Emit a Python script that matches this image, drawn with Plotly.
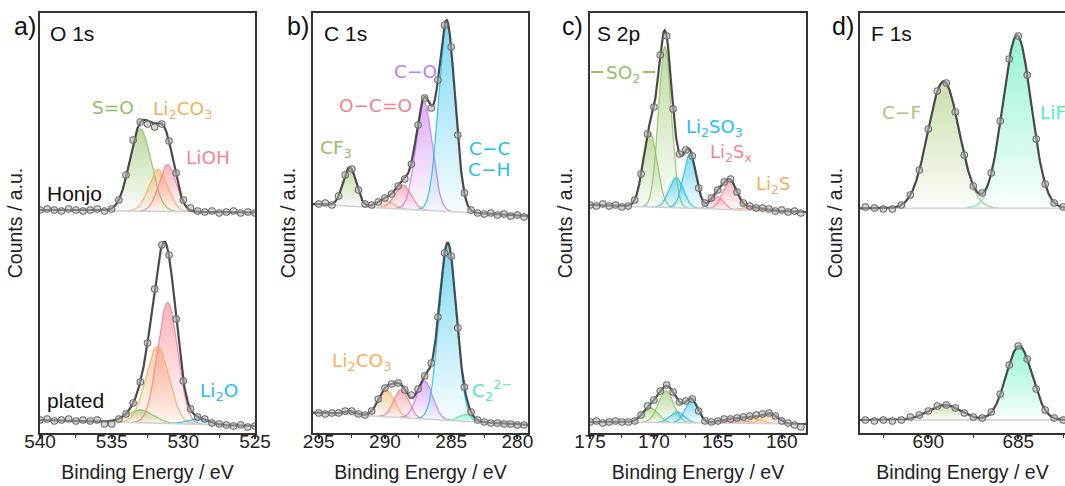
import numpy as np
import plotly.graph_objects as go

W, H = 1065, 486

# ---------------- data (counts in a.u.; Honjo spectra are offset upward) ----------------
# Panel a: O 1s
O1S_RANGE = [540.0, 525.0]
O1S_BE = np.arange(540.0, 524.9, -0.5)
O1S_HONJO_COUNTS = [223, 224, 223, 222, 224, 223, 222, 223, 224, 222, 224,
                    233, 258, 293, 311, 309, 306, 309, 292, 260, 233, 225,
                    222, 221, 222, 220, 221, 222, 220, 221, 220]
O1S_PLATED_COUNTS = [13, 14, 12, 13, 14, 12, 13, 12, 13, 9, 9,
                     14, 19, 30, 51, 90, 144, 188, 178, 114, 52, 24,
                     16, 14, 10, 9, 8, 7, 8, 6, 7]
O1S_HONJO_KEYS = ["SO", "Li2CO3", "LiOH"]
O1S_HONJO_CENTER = [533.0, 531.75, 531.10]
O1S_HONJO_HEIGHT = [82, 42, 47]
O1S_HONJO_SIGMA = [0.75, 0.65, 0.60]
O1S_HONJO_BG = [223.0, 220.5]
O1S_PLATED_KEYS = ["SO", "Li2CO3", "LiOH", "Li2O"]
O1S_PLATED_CENTER = [533.0, 531.8, 531.1, 529.0]
O1S_PLATED_HEIGHT = [13, 77, 121, 6]
O1S_PLATED_SIGMA = [0.9, 0.8, 0.7, 0.7]
O1S_PLATED_BG = [13.0, 7.0]

# Panel b: C 1s
C1S_RANGE = [295.43, 279.2]
C1S_BE = np.arange(295.0, 279.4, -0.5)
C1S_HONJO_COUNTS = [229, 230, 228, 237, 258, 264, 243, 229, 228, 231,
                    235, 239, 247, 254, 269, 308, 335, 325, 353, 408,
                    386, 298, 240, 223, 220, 219, 220, 218, 219, 217, 218, 216]
C1S_PLATED_COUNTS = [20, 19, 20, 20, 22, 22, 19, 18, 22, 34,
                     45, 49, 50, 43, 38, 44, 57, 70, 116, 180,
                     177, 105, 46, 21, 13, 11, 10, 10, 9, 9, 8, 8]
C1S_HONJO_KEYS = ["CF3", "Li2CO3", "OCO", "CO", "CC"]
C1S_HONJO_CENTER = [292.66, 290.0, 288.65, 287.05, 285.33]
C1S_HONJO_HEIGHT = [39, 8, 24, 108, 189]
C1S_HONJO_SIGMA = [0.5, 0.6, 0.6, 0.62, 0.62]
C1S_HONJO_BG = [228.9, 217.1]
C1S_PLATED_KEYS = ["CF3", "Li2CO3", "OCO", "CO", "CC", "C2"]
C1S_PLATED_CENTER = [292.74, 289.9, 288.77, 287.0, 285.26, 283.9]
C1S_PLATED_HEIGHT = [4, 27, 28, 38, 177, 7]
C1S_PLATED_SIGMA = [0.5, 0.6, 0.55, 0.6, 0.65, 0.5]
C1S_PLATED_BG = [20.3, 8.2]

# Panel c: S 2p
S2P_RANGE = [175.0, 158.1]
S2P_BE = np.arange(175.0, 158.4, -0.5)
S2P_HONJO_COUNTS = [228, 227, 229, 227, 228, 226, 227,
                    233, 259, 299, 326, 378, 397, 324, 279, 283, 277,
                    245, 230, 235, 243, 251, 254, 241, 230, 227, 225,
                    225, 224, 222, 223, 221, 222, 220]
S2P_PLATED_COUNTS = [11, 12, 10, 11, 12, 11, 11,
                     12, 18, 27, 33, 42, 48, 41, 31, 32, 34,
                     22, 12, 11, 12, 14, 14, 15, 16, 17, 18,
                     19, 20, 17, 12, 10, 8, 6]
S2P_KEYS = ["SO2", "SO2", "Li2SO3", "Li2SO3", "Li2Sx", "Li2Sx", "Li2S", "Li2S"]
S2P_HONJO_CENTER = [169.14, 170.3, 168.25, 167.2, 165.1, 164.06, 162.6, 161.5]
S2P_HONJO_HEIGHT = [161, 74, 30, 54, 13, 29, 3, 2]
S2P_HONJO_SIGMA = [0.5, 0.55, 0.55, 0.5, 0.5, 0.55, 0.5, 0.5]
S2P_HONJO_BG = [228.0, 221.0]
S2P_PLATED_CENTER = [169.06, 170.3, 168.2, 167.06, 164.5, 163.4, 162.2, 160.95]
S2P_PLATED_HEIGHT = [32, 15, 11, 23, 3, 4, 5, 10]
S2P_PLATED_SIGMA = [0.6, 0.6, 0.55, 0.5, 0.6, 0.6, 0.6, 0.6]
S2P_PLATED_BG = [11.0, 9.0]

# Panel d: F 1s
F1S_RANGE = [693.8, 682.4]
F1S_BE = np.arange(693.5, 682.4, -0.5)
F1S_HONJO_COUNTS = [226, 225, 224, 224, 228, 238, 263, 304, 342, 350, 321, 278,
                    247, 240, 260, 312, 374, 397, 358, 294, 249, 230, 226]
F1S_PLATED_COUNTS = [13, 12, 13, 12, 13, 16, 18, 22, 27, 28, 25, 20,
                     16, 15, 21, 39, 68, 87, 74, 44, 23, 15, 13]
F1S_KEYS = ["CF", "LiF"]
F1S_HONJO_CENTER = [689.15, 685.07]
F1S_HONJO_HEIGHT = [127, 173]
F1S_HONJO_SIGMA = [0.87, 0.79]
F1S_HONJO_BG = [224.7, 224.7]
F1S_PLATED_CENTER = [689.1, 684.95]
F1S_PLATED_HEIGHT = [15, 74]
F1S_PLATED_SIGMA = [0.9, 0.72]
F1S_PLATED_BG = [13.0, 13.0]

# ---------------- style ----------------
COLORS = {
    "SO": "#8fc163", "Li2CO3": "#f5ae62", "LiOH": "#f7838f", "Li2O": "#1fc0f2",
    "CF3": "#8fc163", "OCO": "#f3828a", "CO": "#c57af2", "CC": "#22c0ee", "C2": "#58e8bc",
    "SO2": "#93c265", "Li2SO3": "#22c0f0", "Li2Sx": "#f5858f", "Li2S": "#f3ae66",
    "CF": "#a6c974", "LiF": "#4deeb8",
}
LABEL_FONT = "DejaVu Sans"
AXIS_FONT = "Liberation Sans"

PLOT_TOP, PLOT_BOTTOM = 13, 433   # pixel rows of the plot area


def rgba(hexc, a):
    hexc = hexc.lstrip("#")
    r, g, b = int(hexc[0:2], 16), int(hexc[2:4], 16), int(hexc[4:6], 16)
    return f"rgba({r},{g},{b},{a})"


def gauss(x, c, h, s):
    return h * np.exp(-((x - c) ** 2) / (2.0 * s * s))


PANELS = [
    dict(rng=O1S_RANGE, dom=(40, 255), be=O1S_BE, spectra=[
        (O1S_HONJO_COUNTS, O1S_HONJO_KEYS, O1S_HONJO_CENTER, O1S_HONJO_HEIGHT, O1S_HONJO_SIGMA, O1S_HONJO_BG),
        (O1S_PLATED_COUNTS, O1S_PLATED_KEYS, O1S_PLATED_CENTER, O1S_PLATED_HEIGHT, O1S_PLATED_SIGMA, O1S_PLATED_BG)]),
    dict(rng=C1S_RANGE, dom=(313, 528), be=C1S_BE, spectra=[
        (C1S_HONJO_COUNTS, C1S_HONJO_KEYS, C1S_HONJO_CENTER, C1S_HONJO_HEIGHT, C1S_HONJO_SIGMA, C1S_HONJO_BG),
        (C1S_PLATED_COUNTS, C1S_PLATED_KEYS, C1S_PLATED_CENTER, C1S_PLATED_HEIGHT, C1S_PLATED_SIGMA, C1S_PLATED_BG)]),
    dict(rng=S2P_RANGE, dom=(590, 806), be=S2P_BE, spectra=[
        (S2P_HONJO_COUNTS, S2P_KEYS, S2P_HONJO_CENTER, S2P_HONJO_HEIGHT, S2P_HONJO_SIGMA, S2P_HONJO_BG),
        (S2P_PLATED_COUNTS, S2P_KEYS, S2P_PLATED_CENTER, S2P_PLATED_HEIGHT, S2P_PLATED_SIGMA, S2P_PLATED_BG)]),
    dict(rng=F1S_RANGE, dom=(860, 1065), be=F1S_BE, spectra=[
        (F1S_HONJO_COUNTS, F1S_KEYS, F1S_HONJO_CENTER, F1S_HONJO_HEIGHT, F1S_HONJO_SIGMA, F1S_HONJO_BG),
        (F1S_PLATED_COUNTS, F1S_KEYS, F1S_PLATED_CENTER, F1S_PLATED_HEIGHT, F1S_PLATED_SIGMA, F1S_PLATED_BG)]),
]


def px(x):
    return x / W


def py(y):
    # paper y (plot area runs from PLOT_TOP to PLOT_BOTTOM pixels)
    return (PLOT_BOTTOM - y) / (PLOT_BOTTOM - PLOT_TOP)


fig = go.Figure()

for i, p in enumerate(PANELS):
    n = "" if i == 0 else str(i + 1)
    xa, ya = "x" + n, "y" + n
    hi, lo = p["rng"]
    fine = np.linspace(hi, lo, 900)
    for counts, keys, centers, heights, sigmas, bgv in p["spectra"]:
        bg = bgv[0] + (bgv[1] - bgv[0]) * (hi - fine) / (hi - lo)
        env = bg.copy()
        comps = []
        for k, c, h, s in zip(keys, centers, heights, sigmas):
            g = gauss(fine, c, h, s)
            env = env + g
            comps.append((k, g))
        total = env - bg
        for k, g in comps:
            m = g > 0.25
            xs = fine[m]
            top = (bg + g)[m]
            base = bg[m]
            col = COLORS[k]
            fig.add_trace(go.Scatter(
                x=np.concatenate([xs, xs[::-1]]), y=np.concatenate([top, base[::-1]]),
                xaxis=xa, yaxis=ya, mode="lines", fill="toself", line=dict(width=0),
                fillgradient=dict(type="vertical",
                                  colorscale=[[0, rgba(col, 0.03)], [1, rgba(col, 0.6)]]),
                hoverinfo="skip", showlegend=False))
        for k, g in comps:
            m = g > 0.25
            fig.add_trace(go.Scatter(
                x=fine[m], y=(bg + g)[m], xaxis=xa, yaxis=ya, mode="lines",
                line=dict(color=rgba(COLORS[k], 0.9), width=1.2),
                hoverinfo="skip", showlegend=False))
        mb = total > 0.3
        fig.add_trace(go.Scatter(
            x=fine[mb], y=bg[mb], xaxis=xa, yaxis=ya, mode="lines",
            line=dict(color="#cfcfd4", width=1.5), hoverinfo="skip", showlegend=False))
        fig.add_trace(go.Scatter(
            x=fine, y=env, xaxis=xa, yaxis=ya, mode="lines",
            line=dict(color="#4a4a4a", width=2.2), hoverinfo="skip", showlegend=False))
        fig.add_trace(go.Scatter(
            x=p["be"], y=counts, xaxis=xa, yaxis=ya, mode="markers",
            marker=dict(symbol="circle", size=6.5, color="rgba(180,180,180,0.55)",
                        line=dict(color="#6c6c6c", width=1.1)),
            showlegend=False))
    fig.layout["xaxis" + n] = dict(
        domain=[px(p["dom"][0]), px(p["dom"][1])], range=p["rng"], anchor=ya,
        tickmode="linear", tick0=0, dtick=5, ticks="outside", ticklen=4, tickwidth=1.5,
        tickcolor="#333", showline=True, linecolor="#333", linewidth=1.8, mirror=True,
        showgrid=False, zeroline=False, automargin=False, ticklabelstandoff=-14,
        tickfont=dict(family=AXIS_FONT, size=19, color="#222"),
        minor=dict(dtick=2.5, tick0=0, ticks="outside", ticklen=3, tickcolor="#333", tickwidth=1.2),
        title=dict(text="Binding Energy / eV", font=dict(family=AXIS_FONT, size=19.5, color="#222"),
                   standoff=15),
    )
    fig.layout["yaxis" + n] = dict(
        domain=[0, 1], range=[0, 420], anchor=xa, showticklabels=False, ticks="",
        showline=True, linecolor="#333", linewidth=1.8, mirror=(i < 3),
        showgrid=False, zeroline=False, automargin=False,
        title=dict(text="Counts / a.u.", font=dict(family=AXIS_FONT, size=19.5, color="#222"),
                   standoff=10),
    )

ann = []


def label(x, y, text, color="#111", size=18.5, family=LABEL_FONT, xanchor="center"):
    ann.append(dict(x=px(x), y=py(y), xref="paper", yref="paper", text=text, showarrow=False,
                    xanchor=xanchor, yanchor="middle",
                    font=dict(family=family, size=size, color=color)))


for t, x in zip(["a)", "b)", "c)", "d)"], [25, 298, 572, 843]):
    label(x, 26, t, size=25, family=AXIS_FONT)
for t, x in zip(["O 1s", "C 1s", "S 2p", "F 1s"], [48, 322, 595, 869]):
    label(x, 33, t, size=21, family=AXIS_FONT, xanchor="left")
label(45, 193, "Honjo", size=21, family=AXIS_FONT, xanchor="left")
label(45, 400, "plated", size=21, family=AXIS_FONT, xanchor="left")

label(113, 108, "S=O", COLORS["SO"])
label(182, 110, "Li<sub>2</sub>CO<sub>3</sub>", COLORS["Li2CO3"])
label(208, 157, "LiOH", COLORS["LiOH"])
label(219, 392, "Li<sub>2</sub>O", COLORS["Li2O"])

label(415, 72, "C\u2212O", COLORS["CO"])
label(375, 105, "O\u2212C=O", COLORS["OCO"])
label(336, 149, "CF<sub>3</sub>", COLORS["CF3"])
label(489, 148, "C\u2212C", COLORS["CC"])
label(489, 169, "C\u2212H", COLORS["CC"])
label(361, 362, "Li<sub>2</sub>CO<sub>3</sub>", COLORS["Li2CO3"])
label(492, 390, "C<sub>2</sub><sup>2\u2212</sup>", COLORS["C2"])

label(623, 74, "SO<sub>2</sub>", COLORS["SO2"])
label(714, 128, "Li<sub>2</sub>SO<sub>3</sub>", COLORS["Li2SO3"], size=18)
label(731, 153, "Li<sub>2</sub>S<sub>x</sub>", COLORS["Li2Sx"], size=18)
label(773, 185, "Li<sub>2</sub>S", COLORS["Li2S"], size=18)

label(901, 112, "C\u2212F", COLORS["CF"])
label(1038, 112, "LiF", COLORS["LiF"], xanchor="left")

shapes = [
    dict(type="line", xref="paper", yref="paper", x0=px(591), x1=px(603), y0=py(72), y1=py(72),
         line=dict(color=COLORS["SO2"], width=2)),
    dict(type="line", xref="paper", yref="paper", x0=px(643), x1=px(655), y0=py(72), y1=py(72),
         line=dict(color=COLORS["SO2"], width=2)),
]

fig.update_layout(
    template="none",
    width=W, height=H, margin=dict(l=0, r=0, t=PLOT_TOP, b=H - PLOT_BOTTOM, pad=0),
    paper_bgcolor="white", plot_bgcolor="white",
    font=dict(family=AXIS_FONT, color="#222"),
    annotations=ann, shapes=shapes, showlegend=False,
)

fig.write_html("out.html", config={"displayModeBar": False},
               post_script="document.body.style.margin='0px';document.body.style.overflow='hidden';")
